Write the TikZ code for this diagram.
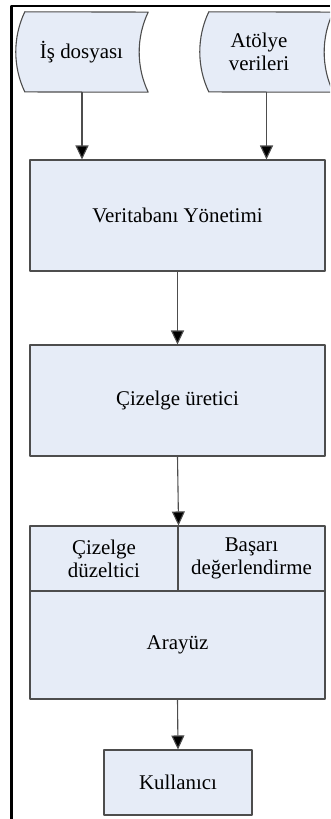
\documentclass[tikz,border=0pt]{standalone}
\usepackage{fontspec}
\setmainfont{Liberation Serif}
\usetikzlibrary{arrows.meta}
\definecolor{kutu}{RGB}{230,236,247}
\definecolor{kenar}{RGB}{77,77,77}
\tikzset{
	yazi/.style={font=\fontsize{21}{23}\selectfont, align=center, inner sep=0pt},
	blok/.style={yazi, draw=kenar, fill=kutu, line width=1.1bp},
	depo/.style={inner sep=0pt, minimum width=132bp, minimum height=80bp},
	depoyol/.style={draw=kenar, fill=kutu, line width=1.1bp},
	ok/.style={draw=kenar, line width=1.1bp, -{Triangle[width=13bp,length=14bp,fill=black]}},
}
\begin{document}
\begin{tikzpicture}[x=1bp, y=1bp, line join=round]
	\useasboundingbox (0,0) rectangle (330,-819);
	\clip (0,0) rectangle (330,-819);
	% cerceve
	\draw[line width=2.8bp] (11.7,-819) |- (330,-6);
	% veri kaynaklari
	\node[depo] (is) at (82,-52) {};
	\node[depo, minimum width=133bp] (atolye) at (266.5,-52) {};
	\draw[depoyol] ([xshift=9bp]is.north west) arc[start angle=154.6, end angle=205.4, radius=93.4]
		-- (is.south east) arc[start angle=205.4, end angle=154.6, radius=93.4] -- cycle;
	\draw[depoyol] ([xshift=9bp]atolye.north west) arc[start angle=154.6, end angle=205.4, radius=93.4]
		-- (atolye.south east) arc[start angle=205.4, end angle=154.6, radius=93.4] -- cycle;
	\node[yazi] (isyazi) at (81.5,-52) {İş dosyası};
	\node[yazi] (atolyeyazi) at (259,-52) {Atölye\\verileri};
	% kutular
	\node[blok, minimum width=295bp, minimum height=111bp] (vt) at (177.5,-215.5) {Veritabanı Yönetimi};
	\node[blok, minimum width=295bp, minimum height=111bp] (uretici) at (177.5,-400.5) {Çizelge üretici};
	\node[blok, minimum width=148bp, minimum height=65bp] (duzeltici) at (104,-558.5) {Çizelge\\düzeltici};
	\node[blok, minimum width=147bp, minimum height=65bp] (basari) at (251.5,-558.5) {Başarı\\değerlendirme};
	\node[blok, minimum width=295bp, minimum height=108bp] (arayuz) at (177.5,-645) {Arayüz};
	\node[blok, minimum width=148bp, minimum height=65bp] (kullanici) at (178,-782.5) {Kullanıcı};
	% oklar
	\draw[ok] (is.south) -- (is.south |- vt.north);
	\draw[ok] (atolye.south) -- (atolye.south |- vt.north);
	\draw[ok] (vt.south) -- (uretici.north);
	\draw[ok] (uretici.south) -- (duzeltici.north east);
	\draw[ok] (arayuz.south) -- (kullanici.north);
\end{tikzpicture}
\end{document}
